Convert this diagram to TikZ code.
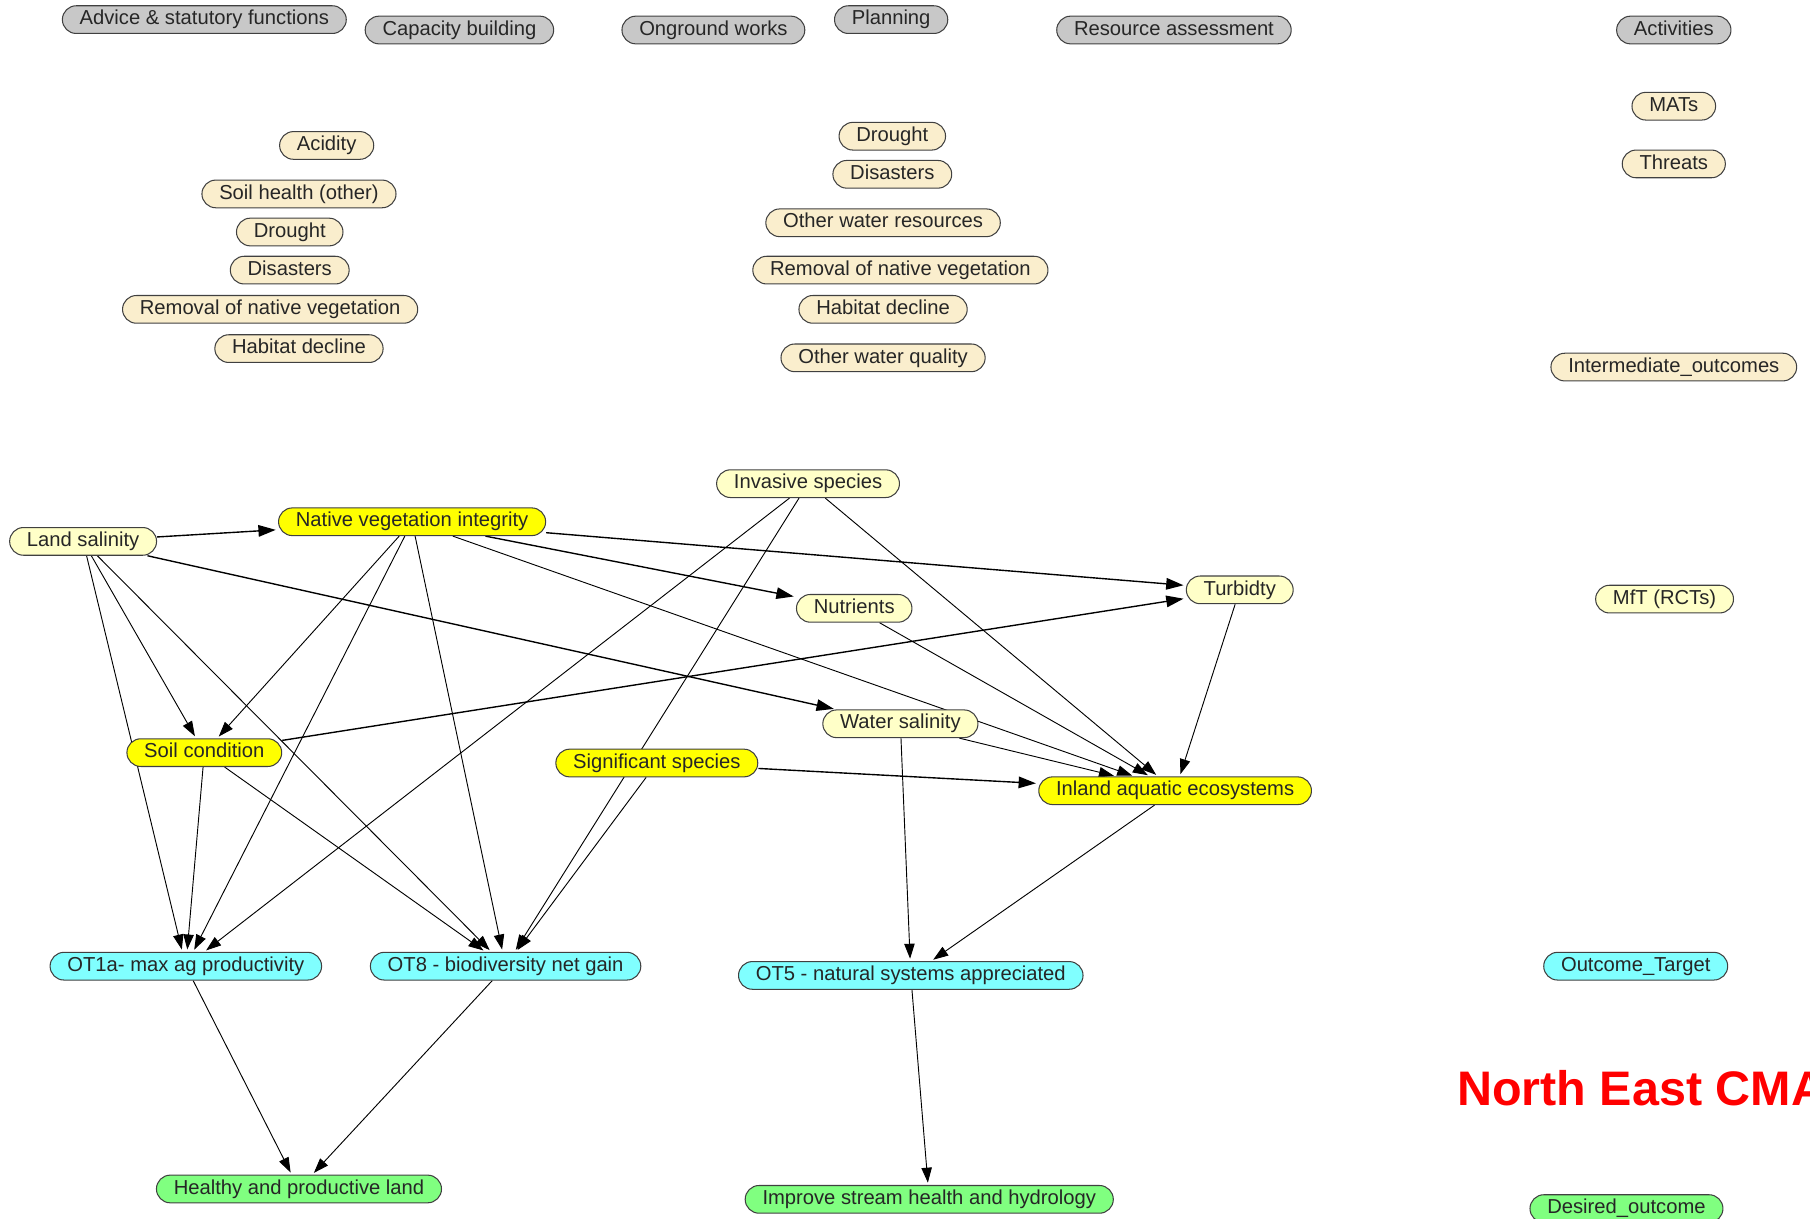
\documentclass[tikz,border=0pt]{standalone}
\usepackage{fontspec}
\setmainfont{Liberation Sans}
\usetikzlibrary{arrows.meta,backgrounds}

\definecolor{actgrey}{RGB}{200,200,200}
\definecolor{threatbeige}{RGB}{250,238,205}
\definecolor{ioyellow}{RGB}{255,255,200}
\definecolor{focusyellow}{RGB}{255,255,0}
\definecolor{targetcyan}{RGB}{128,255,255}
\definecolor{goalgreen}{RGB}{128,255,128}

\begin{document}
\begin{tikzpicture}[x=1pt, y=-1pt, nodes={rectangle, draw=black!75, line width=0.9pt, rounded corners=12pt, minimum height=24pt, inner xsep=15pt, inner ysep=0pt, text height=12.5pt, text depth=3.5pt, text=black!85, font=\fontsize{17.5}{20}\selectfont},
	actnode/.style={fill=actgrey}, threatnode/.style={fill=threatbeige}, ionode/.style={fill=ioyellow},
	focusnode/.style={fill=focusyellow}, targetnode/.style={fill=targetcyan}, goalnode/.style={fill=goalgreen},
	link/.style={-{Triangle[length=13pt,width=9pt]}, line width=0.8pt, shorten >=2pt},
	biglink/.style={-{Triangle[length=15pt,width=10pt]}, line width=1.2pt, shorten >=2pt}]
	\useasboundingbox (0, 0) rectangle (1568, 1056);
	
	% activities
	\node[actnode] (adv) at (177, 17) {Advice \& statutory functions};
	\node[actnode] (cap) at (398, 26) {Capacity building};
	\node[actnode] (ong) at (618, 26) {Onground works};
	\node[actnode] (plan) at (772, 17) {Planning};
	\node[actnode] (res) at (1017, 26) {Resource assessment};
	\node[actnode] (act) at (1450, 26) {Activities};
	
	% threats
	\node[threatnode] (acid) at (283, 126) {Acidity};
	\node[threatnode] (soilh) at (259, 168) {Soil health (other)};
	\node[threatnode] (drt) at (251, 201) {Drought};
	\node[threatnode] (dis) at (251, 234) {Disasters};
	\node[threatnode] (rnv) at (234, 268) {Removal of native vegetation};
	\node[threatnode] (hab) at (259, 302) {Habitat decline};
	\node[threatnode] (drtw) at (773, 118) {Drought};
	\node[threatnode] (disw) at (773, 151) {Disasters};
	\node[threatnode] (owr) at (765, 193) {Other water resources};
	\node[threatnode] (rnvw) at (780, 234) {Removal of native vegetation};
	\node[threatnode] (habw) at (765, 268) {Habitat decline};
	\node[threatnode] (owq) at (765, 310) {Other water quality};
	\node[threatnode] (mats) at (1450, 92) {MATs};
	\node[threatnode] (thr) at (1450, 142) {Threats};
	\node[threatnode] (iol) at (1450, 318) {Intermediate\_outcomes};
	
	% intermediate outcomes
	\node[ionode] (inv) at (700, 419) {Invasive species};
	\node[ionode] (ls) at (72, 469) {Land salinity};
	\node[ionode] (turb) at (1074, 511) {Turbidty};
	\node[ionode] (nut) at (740, 527) {Nutrients};
	\node[ionode] (ws) at (780, 627) {Water salinity};
	\node[ionode] (mft) at (1442, 519) {MfT (RCTs)};
	\node[focusnode] (nvi) at (357, 452) {Native vegetation integrity};
	\node[focusnode] (sc) at (177, 652) {Soil condition};
	\node[focusnode] (ss) at (569, 661) {Significant species};
	\node[focusnode] (iae) at (1018, 685) {Inland aquatic ecosystems};
	
	% outcome targets and desired outcomes
	\node[targetnode] (ot1a) at (161, 837) {OT1a- max ag productivity};
	\node[targetnode] (ot8) at (438, 837) {OT8 - biodiversity net gain};
	\node[targetnode] (ot5) at (789, 845) {OT5 - natural systems appreciated};
	\node[targetnode] (otl) at (1417, 837) {Outcome\_Target};
	\node[goalnode] (hpl) at (259, 1030) {Healthy and productive land};
	\node[goalnode] (ish) at (805, 1039) {Improve stream health and hydrology};
	\node[goalnode] (dol) at (1409, 1047) {Desired\_outcome};
	
	\node[draw=none, anchor=west, inner xsep=0pt, text=red, font=\fontsize{42}{46}\selectfont\bfseries, text height=30pt, text depth=0pt] (ncma) at (1262, 943) {North East CMA};
	
	\begin{pgfonlayer}{background} % links sit under the nodes
		\draw[biglink] (ls) to (nvi);
		\draw[biglink] (ls) to (ws);
		\draw[link] (ls) to (sc);
		\draw[link] (ls) to (ot1a);
		\draw[link] (ls) to (ot8);
		
		\draw[biglink] (nvi) to (turb);
		\draw[biglink] (nvi) to (nut);
		\draw[link] (nvi) to (iae);
		\draw[link] (nvi) to (sc);
		\draw[link] (nvi) to (ot1a);
		\draw[link] (nvi) to (ot8);
		
		\draw[link] (inv) to (ot1a);
		\draw[link] (inv) to (ot8);
		\draw[link] (inv) to (iae);
		
		\draw[biglink] (sc) to (turb);
		\draw[link] (sc) to (ot1a);
		\draw[link] (sc) to (ot8);
		
		\draw[link] (nut) to (iae);
		\draw[link] (ws) to (iae);
		\draw[link] (turb) to (iae);
		\draw[biglink] (ss) to (iae);
		\draw[link] (ss) to (ot8);
		\draw[link] (ws) to (ot5);
		\draw[link] (iae) to (ot5);
		
		\draw[link] (ot1a) to (hpl);
		\draw[link] (ot8) to (hpl);
		\draw[link] (ot5) to (ish);
	\end{pgfonlayer}
\end{tikzpicture}
\end{document}
